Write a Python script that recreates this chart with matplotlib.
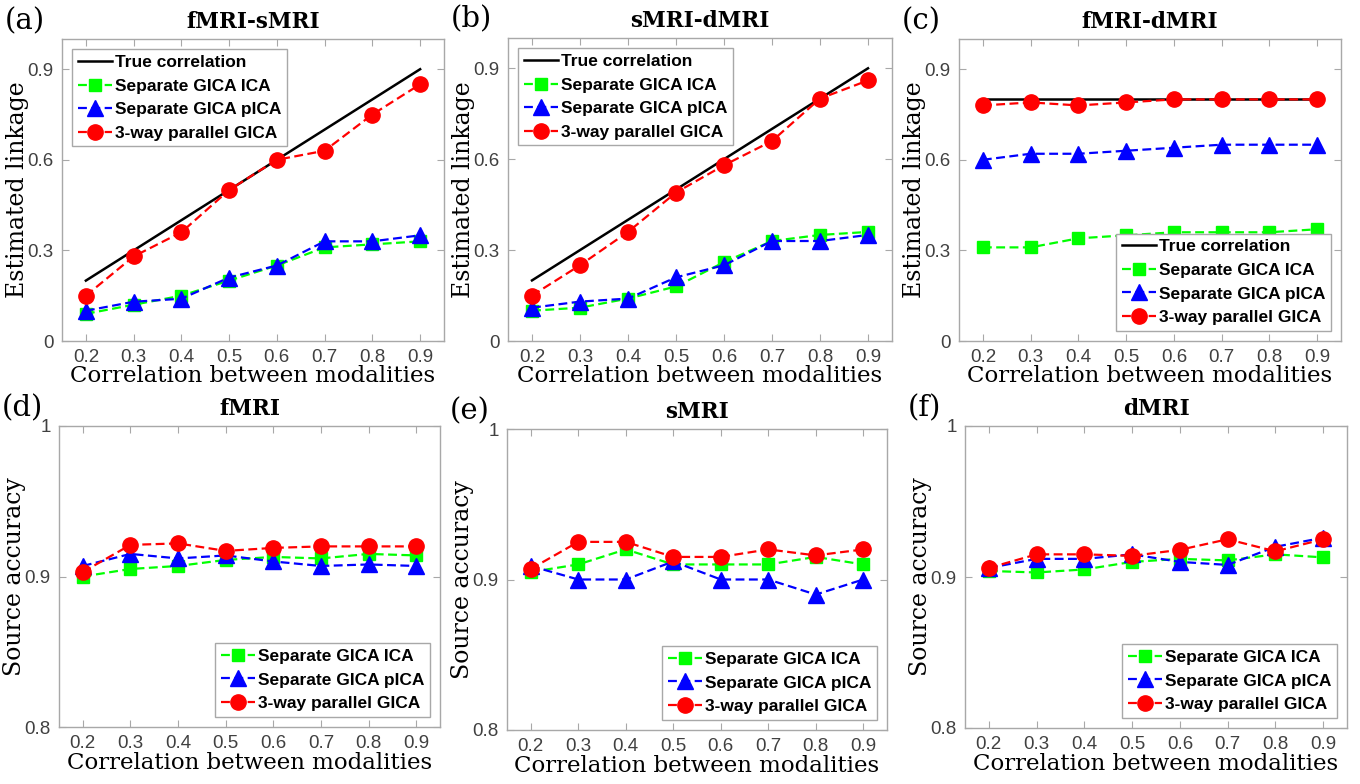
import matplotlib.pyplot as plt

# x values: correlation between modalities
corr = [0.2, 0.3, 0.4, 0.5, 0.6, 0.7, 0.8, 0.9]

# Estimated linkage (top row)
true_a = [0.2, 0.3, 0.4, 0.5, 0.6, 0.7, 0.8, 0.9]
ica_a = [0.09, 0.12, 0.15, 0.20, 0.25, 0.31, 0.32, 0.33]
pica_a = [0.10, 0.13, 0.14, 0.21, 0.25, 0.33, 0.33, 0.35]
par_a = [0.15, 0.28, 0.36, 0.50, 0.60, 0.63, 0.75, 0.85]

true_b = [0.2, 0.3, 0.4, 0.5, 0.6, 0.7, 0.8, 0.9]
ica_b = [0.10, 0.11, 0.14, 0.18, 0.26, 0.33, 0.35, 0.36]
pica_b = [0.11, 0.13, 0.14, 0.21, 0.25, 0.33, 0.33, 0.35]
par_b = [0.15, 0.25, 0.36, 0.49, 0.58, 0.66, 0.80, 0.86]

true_c = [0.8, 0.8, 0.8, 0.8, 0.8, 0.8, 0.8, 0.8]
ica_c = [0.31, 0.31, 0.34, 0.35, 0.36, 0.36, 0.36, 0.37]
pica_c = [0.60, 0.62, 0.62, 0.63, 0.64, 0.65, 0.65, 0.65]
par_c = [0.78, 0.79, 0.78, 0.79, 0.80, 0.80, 0.80, 0.80]

# Source accuracy (bottom row)
ica_d = [0.900, 0.905, 0.907, 0.911, 0.913, 0.912, 0.915, 0.914]
pica_d = [0.907, 0.915, 0.912, 0.914, 0.910, 0.907, 0.908, 0.907]
par_d = [0.903, 0.921, 0.922, 0.917, 0.919, 0.920, 0.920, 0.920]

ica_e = [0.905, 0.910, 0.920, 0.910, 0.910, 0.910, 0.915, 0.910]
pica_e = [0.909, 0.900, 0.900, 0.912, 0.900, 0.900, 0.890, 0.900]
par_e = [0.907, 0.925, 0.925, 0.915, 0.915, 0.920, 0.916, 0.920]

ica_f = [0.904, 0.903, 0.905, 0.910, 0.912, 0.911, 0.915, 0.913]
pica_f = [0.906, 0.912, 0.912, 0.915, 0.910, 0.908, 0.920, 0.926]
par_f = [0.906, 0.915, 0.915, 0.914, 0.918, 0.925, 0.917, 0.925]

names = ['True correlation', 'Separate GICA ICA', 'Separate GICA pICA', '3-way parallel GICA']

W, H = 1360, 784
fig = plt.figure(figsize=(W / 100, H / 100), dpi=100)

SERIF = 'DejaVu Serif'
SANS = 'Liberation Sans'
FRAME = '#a8a8a8'


def box(l, t, r, b):
    return [l / W, 1 - b / H, (r - l) / W, (b - t) / H]


def panel(rect, letter, title, ylabel, ica, pica, par, true=None, ylim=(0, 1),
          yticks=(0, 0.3, 0.6, 0.9), yticklabels=('0', '0.3', '0.6', '0.9'),
          legloc='upper left', xpad=-1):
    ax = fig.add_axes(box(*rect))
    handles = []
    if true is not None:
        h, = ax.plot(corr, true, '-', color='black', lw=1.8, label=names[0])
        handles.append(h)
    dash = (4, 2)
    h1, = ax.plot(corr, ica, '--', color='#00ff00', lw=1.6, dashes=dash, marker='s',
                  ms=8.5, mec='#00ff00', label=names[1])
    h2, = ax.plot(corr, pica, '--', color='#0000ff', lw=1.6, dashes=dash, marker='^',
                  ms=11, mec='#0000ff', label=names[2])
    h3, = ax.plot(corr, par, '--', color='#ff0000', lw=1.6, dashes=dash, marker='o',
                  ms=11, mec='#ff0000', label=names[3])
    handles += [h1, h2, h3]

    ax.set_xlim(0.15, 0.95)
    ax.set_ylim(*ylim)
    ax.set_xticks(corr)
    ax.set_xticklabels([f'{v:.1f}' for v in corr])
    ax.set_yticks(yticks)
    ax.set_yticklabels(yticklabels)
    ax.tick_params(direction='in', top=True, right=True, length=5, width=0.8,
                   color=FRAME, labelcolor='#404040', labelsize=13.5, pad=6)
    for lab in ax.get_xticklabels() + ax.get_yticklabels():
        lab.set_family(SANS)
    for s in ax.spines.values():
        s.set_color(FRAME)
        s.set_linewidth(1.0)

    ax.set_title(title, fontfamily=SERIF, fontweight='bold', fontsize=15.5, pad=8)
    ax.set_xlabel('Correlation between modalities', fontfamily=SERIF, fontsize=16.5,
                  labelpad=xpad)
    ax.set_ylabel(ylabel, fontfamily=SERIF, fontsize=17, labelpad=-1)
    ax.text(-0.15, 1.06, letter, transform=ax.transAxes, fontfamily=SERIF,
            fontsize=21, ha='left', va='center')

    leg = ax.legend(handles=handles, loc=legloc, prop={'family': SANS, 'weight': 'bold', 'size': 12.5},
                    handlelength=2.0, handletextpad=0.15, borderpad=0.3, labelspacing=0.5,
                    fancybox=False, framealpha=1, edgecolor=FRAME, borderaxespad=0.6)
    leg.get_frame().set_linewidth(1.0)
    return ax


panel((62, 39, 444, 341), '(a)', 'fMRI-sMRI', 'Estimated linkage', ica_a, pica_a, par_a, true_a)
panel((508, 38, 892, 341), '(b)', 'sMRI-dMRI', 'Estimated linkage', ica_b, pica_b, par_b, true_b)
panel((959, 39, 1341, 341), '(c)', 'fMRI-dMRI', 'Estimated linkage', ica_c, pica_c, par_c, true_c,
      legloc='lower right')

acc_kw = dict(ylim=(0.8, 1.0), yticks=(0.8, 0.9, 1.0), yticklabels=('0.8', '0.9', '1'),
              legloc='lower right', xpad=0)
panel((59, 426, 440, 727), '(d)', 'fMRI', 'Source accuracy', ica_d, pica_d, par_d, **acc_kw)
panel((507, 429, 887, 730), '(e)', 'sMRI', 'Source accuracy', ica_e, pica_e, par_e, **acc_kw)
panel((965, 426, 1347, 728), '(f)', 'dMRI', 'Source accuracy', ica_f, pica_f, par_f, **acc_kw)

plt.savefig('out.png', dpi=100)
